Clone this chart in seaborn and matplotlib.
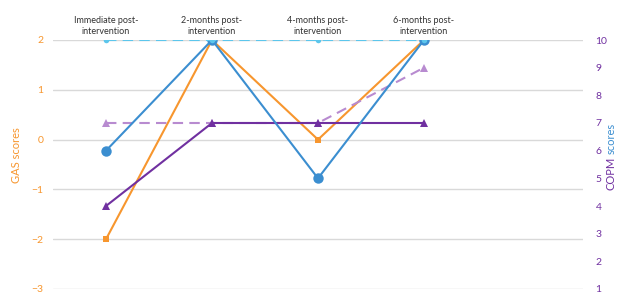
import matplotlib
matplotlib.use("Agg")
import matplotlib.pyplot as plt
import seaborn as sns
import pandas as pd

sns.set_style("white")
plt.rcParams['font.family'] = ['Lato', 'DejaVu Sans']

categories = ["Immediate post-\nintervention", "2-months post-\nintervention",
              "4-months post-\nintervention", "6-months post-\nintervention"]
gas = [-2, 2, 0, 2]
copm_blue = [6, 10, 5, 10]
copm_purple = [4, 7, 7, 7]
copm_lilac_dash = [7, 7, 7, 9]
copm_lightblue_dash = [10, 10, 10, 10]

gas_ticks = [-3, -2, -1, 0, 1, 2]
copm_ticks = list(range(1, 11))

ORANGE = "#F7962E"
BLUE = "#3B8ED0"
PURPLE = "#7030A0"
LILAC = "#B88BD0"
LIGHTBLUE = "#5CC6EC"

pos = list(range(len(categories)))
df = pd.DataFrame({"pos": pos, "gas": gas, "blue": copm_blue, "purple": copm_purple,
                   "lilac": copm_lilac_dash, "lb": copm_lightblue_dash})

fig = plt.figure(figsize=(6.17, 2.93), dpi=100)
ax = fig.add_axes([53/617, 1-289/293, (583-53)/617, (289-40)/293])
ax2 = ax.twinx()

sns.lineplot(data=df, x="pos", y="gas", ax=ax, color=ORANGE, marker="s", markersize=5,
             markeredgewidth=0, linewidth=1.5)

sns.lineplot(data=df, x="pos", y="lilac", ax=ax2, color=LILAC, marker="^", markersize=6,
             markeredgewidth=0, linewidth=1.5, linestyle=(0, (5, 3)))
sns.lineplot(data=df, x="pos", y="purple", ax=ax2, color=PURPLE, marker="^", markersize=6,
             markeredgewidth=0, linewidth=1.5)
sns.lineplot(data=df, x="pos", y="blue", ax=ax2, color=BLUE, marker="o", markersize=7.5,
             markeredgewidth=0, linewidth=1.5)
sns.lineplot(data=df, x="pos", y="lb", ax=ax2, color=LIGHTBLUE, marker="o", markersize=4,
             markeredgewidth=0, linewidth=1.5, linestyle=(0, (5, 3)))

ax.set_xlim(-0.5, 4.5)
ax.set_ylim(-3, 2)
ax2.set_ylim(1, 10)
ax.set_yticks(gas_ticks)
ax2.set_yticks(copm_ticks)
ax.set_xticks(pos)
ax.set_xticklabels(categories, fontsize=6.5, color="#333333", linespacing=1.3)
ax.xaxis.tick_top()
ax.tick_params(axis="x", length=0, pad=3)
ax.tick_params(axis="y", length=0, pad=7, labelsize=7.5, labelcolor=ORANGE)
ax2.tick_params(axis="y", length=0, pad=9, labelsize=7.5, labelcolor=PURPLE)
ax.yaxis.grid(True, color="#D9D9D9", linewidth=1)
ax.set_xlabel("")
ax.set_ylabel("")
ax2.set_ylabel("")
for a in (ax, ax2):
    for s in a.spines.values():
        s.set_visible(False)

fig.text(17/617, 1-155/293, "GAS scores", rotation=90, color=ORANGE, fontsize=8,
         ha="center", va="center")
t1 = fig.text(611/617, 1-190/293, "COPM", rotation=90, color=PURPLE, fontsize=8,
              ha="center", va="bottom")
fig.canvas.draw()
bb = t1.get_window_extent(fig.canvas.get_renderer())
top = bb.y1 / fig.bbox.height
fig.text(611/617, top + 3/293, "scores", rotation=90, color=BLUE, fontsize=8,
         ha="center", va="bottom")

fig.savefig("out.png", dpi=100)
